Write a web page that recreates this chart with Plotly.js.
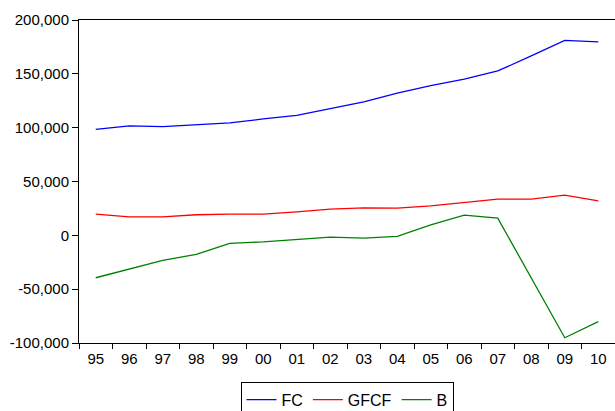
<!DOCTYPE html>
<html>
<head>
<meta charset="utf-8">
<script src="https://cdn.plot.ly/plotly-3.0.1.min.js"></script>
<style>
html,body{margin:0;padding:0;background:#fff;overflow:hidden;}
#chart{width:615px;height:411px;}
</style>
</head>
<body>
<div id="chart"></div>
<script>
var years = ["95","96","97","98","99","00","01","02","03","04","05","06","07","08","09","10"];
var fc   = [98500,101600,101000,102600,104400,108100,111500,117700,123900,132000,139100,145000,152700,166600,181100,179600];
var gfcf = [19700,17200,17200,19100,19700,19700,21800,24300,25500,25200,27400,30200,33600,33600,37300,32000];
var b    = [-39400,-31300,-23300,-17700,-7500,-6000,-3500,-1600,-2600,-1000,9800,18700,16000,-39700,-95100,-80200];
var yTickVals = [-100000,-50000,0,50000,100000,150000,200000];
var yTickText = ["-100,000","-50,000","0","50,000","100,000","150,000","200,000"];

var traces = [
  {x: years, y: fc, name: "FC", type: "scatter", mode: "lines", line: {color: "#0000ff", width: 1.3}},
  {x: years, y: gfcf, name: "GFCF", type: "scatter", mode: "lines", line: {color: "#ff0000", width: 1.3}},
  {x: years, y: b, name: "B", type: "scatter", mode: "lines", line: {color: "#008000", width: 1.3}}
];

var layout = {
  width: 615, height: 411,
  margin: {l: 79, r: 0, t: 20, b: 68, pad: 0, autoexpand: false},
  paper_bgcolor: "#fff", plot_bgcolor: "#fff",
  font: {family: "Liberation Sans, Arial, sans-serif", size: 15, color: "#000"},
  showlegend: true,
  legend: {
    orientation: "h", x: 0.5, xanchor: "center", y: -0.12, yanchor: "top",
    bordercolor: "#000", borderwidth: 1, bgcolor: "#fff",
    font: {size: 16, color: "#000"}, traceorder: "normal"
  },
  xaxis: {
    type: "category", range: [-0.5, 15.5], tickson: "boundaries", ticks: "outside", ticklen: 5,
    tickcolor: "#000", tickwidth: 1, ticklabelstandoff: 2,
    showline: true, linecolor: "#000", linewidth: 1, mirror: true,
    showgrid: false, zeroline: false, fixedrange: true,
    tickfont: {size: 15, color: "#000"}
  },
  yaxis: {
    range: [-100000, 200000], tickvals: yTickVals, ticktext: yTickText,
    ticks: "outside", ticklen: 6, tickcolor: "#000", tickwidth: 1,
    showline: true, linecolor: "#000", linewidth: 1,
    showgrid: false, zeroline: false, fixedrange: true,
    tickfont: {size: 15, color: "#000"}
  }
};

Plotly.newPlot("chart", traces, layout, {displayModeBar: false, staticPlot: true});
</script>
</body>
</html>
